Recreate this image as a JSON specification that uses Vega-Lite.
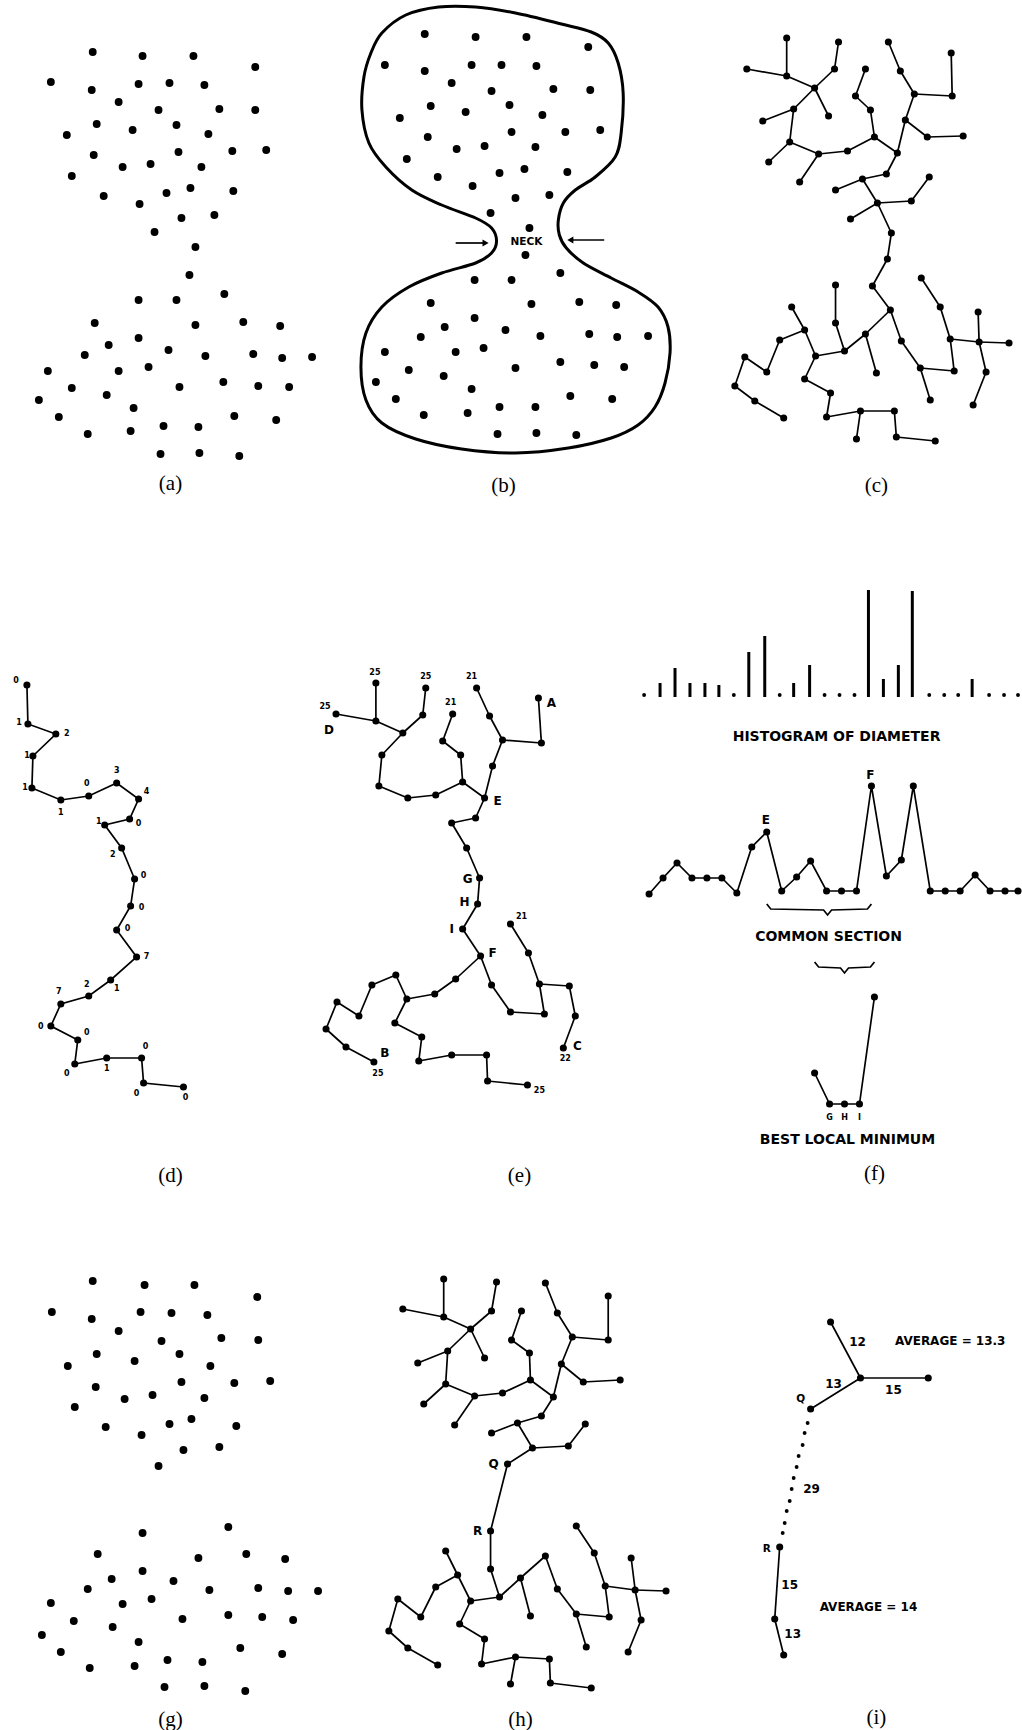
{
"$schema": "https://vega.github.io/schema/vega-lite/v6.json",
"width": 1022, "height": 1730,
"autosize": {"type": "fit", "contains": "padding"},
"padding": 0,
"background": "white",
"config": {"view": {"stroke": null}},
"datasets": {
"pts": [
{"x":93,"y":52},{"x":143,"y":56},{"x":194,"y":56},{"x":256,"y":67},{"x":51,"y":82},{"x":92,"y":90},{"x":139,"y":84},{"x":170,"y":83},{"x":205,"y":85},{"x":119,"y":102},{"x":159,"y":110},{"x":220,"y":109},{"x":256,"y":110},{"x":97,"y":124},{"x":133,"y":130},{"x":177,"y":125},{"x":209,"y":134},{"x":67,"y":135},{"x":94,"y":155},{"x":179,"y":152},{"x":233,"y":151},{"x":267,"y":150},{"x":123,"y":167},{"x":151,"y":164},{"x":202,"y":167},{"x":72,"y":176},{"x":104,"y":196},{"x":140,"y":204},{"x":167,"y":193},{"x":191,"y":188},{"x":234,"y":191},{"x":182,"y":218},{"x":215,"y":215},{"x":155,"y":232},{"x":196,"y":247},{"x":190,"y":275},{"x":139,"y":300},{"x":177,"y":300},{"x":225,"y":294},{"x":95,"y":323},{"x":196,"y":325},{"x":244,"y":322},{"x":281,"y":326},{"x":139,"y":338},{"x":109,"y":345},{"x":85,"y":355},{"x":169,"y":350},{"x":206,"y":356},{"x":254,"y":354},{"x":283,"y":358},{"x":313,"y":357},{"x":48,"y":371},{"x":119,"y":371},{"x":149,"y":367},{"x":72,"y":388},{"x":180,"y":387},{"x":224,"y":382},{"x":259,"y":386},{"x":290,"y":387},{"x":39,"y":400},{"x":107,"y":395},{"x":134,"y":408},{"x":59,"y":417},{"x":235,"y":416},{"x":277,"y":420},{"x":88,"y":434},{"x":131,"y":431},{"x":164,"y":426},{"x":199,"y":427},{"x":161,"y":454},{"x":200,"y":453},{"x":240,"y":456},
{"x":426,"y":34},{"x":477,"y":37},{"x":528,"y":37},{"x":590,"y":47},{"x":386,"y":65},{"x":426,"y":71},{"x":473,"y":65},{"x":503,"y":65},{"x":538,"y":66},{"x":453,"y":83},{"x":493,"y":91},{"x":555,"y":89},{"x":592,"y":90},{"x":432,"y":106},{"x":467,"y":112},{"x":511,"y":105},{"x":544,"y":115},{"x":401,"y":118},{"x":429,"y":137},{"x":513,"y":132},{"x":567,"y":132},{"x":602,"y":130},{"x":458,"y":149},{"x":486,"y":146},{"x":537,"y":147},{"x":408,"y":159},{"x":439,"y":177},{"x":474,"y":186},{"x":501,"y":173},{"x":526,"y":169},{"x":569,"y":172},{"x":517,"y":198},{"x":551,"y":195},{"x":492,"y":213},{"x":531,"y":228},{"x":527,"y":255},{"x":476,"y":280},{"x":513,"y":280},{"x":562,"y":273},{"x":432,"y":303},{"x":533,"y":304},{"x":581,"y":302},{"x":618,"y":305},{"x":476,"y":318},{"x":446,"y":327},{"x":422,"y":337},{"x":507,"y":330},{"x":542,"y":336},{"x":591,"y":334},{"x":619,"y":337},{"x":650,"y":336},{"x":386,"y":352},{"x":457,"y":352},{"x":485,"y":348},{"x":410,"y":370},{"x":517,"y":368},{"x":562,"y":362},{"x":596,"y":365},{"x":626,"y":367},{"x":377,"y":382},{"x":445,"y":376},{"x":473,"y":389},{"x":397,"y":399},{"x":572,"y":396},{"x":614,"y":399},{"x":425,"y":415},{"x":469,"y":413},{"x":501,"y":407},{"x":537,"y":407},{"x":499,"y":434},{"x":538,"y":433},{"x":578,"y":435},
{"x":93,"y":1281},{"x":145,"y":1285},{"x":195,"y":1285},{"x":258,"y":1297},{"x":52,"y":1312},{"x":92,"y":1319},{"x":141,"y":1312},{"x":172,"y":1313},{"x":208,"y":1315},{"x":119,"y":1331},{"x":162,"y":1341},{"x":222,"y":1338},{"x":259,"y":1340},{"x":97,"y":1354},{"x":135,"y":1361},{"x":180,"y":1354},{"x":211,"y":1366},{"x":68,"y":1366},{"x":96,"y":1387},{"x":182,"y":1382},{"x":235,"y":1383},{"x":271,"y":1381},{"x":125,"y":1399},{"x":153,"y":1395},{"x":205,"y":1398},{"x":75,"y":1407},{"x":106,"y":1427},{"x":142,"y":1435},{"x":170,"y":1424},{"x":192,"y":1419},{"x":237,"y":1426},{"x":184,"y":1450},{"x":220,"y":1447},{"x":159,"y":1466},
{"x":143,"y":1533},{"x":229,"y":1527},{"x":98,"y":1554},{"x":199,"y":1558},{"x":247,"y":1554},{"x":286,"y":1559},{"x":143,"y":1571},{"x":112,"y":1579},{"x":174,"y":1581},{"x":88,"y":1589},{"x":210,"y":1590},{"x":259,"y":1588},{"x":289,"y":1591},{"x":319,"y":1591},{"x":51,"y":1603},{"x":123,"y":1604},{"x":152,"y":1599},{"x":74,"y":1621},{"x":183,"y":1619},{"x":229,"y":1615},{"x":263,"y":1617},{"x":294,"y":1620},{"x":42,"y":1635},{"x":113,"y":1627},{"x":139,"y":1642},{"x":61,"y":1652},{"x":241,"y":1648},{"x":283,"y":1654},{"x":90,"y":1668},{"x":135,"y":1666},{"x":168,"y":1660},{"x":203,"y":1662},{"x":165,"y":1687},{"x":205,"y":1686},{"x":246,"y":1691}
],
"outline": [
{"o":1,"x":383,"y":33},{"o":2,"x":407,"y":15},{"o":3,"x":440,"y":7},{"o":4,"x":477,"y":7},{"o":5,"x":517,"y":13},{"o":6,"x":563,"y":24},{"o":7,"x":593,"y":32},{"o":8,"x":610,"y":43},{"o":9,"x":620,"y":63},{"o":10,"x":625,"y":93},{"o":11,"x":623,"y":133},{"o":12,"x":617,"y":157},{"o":13,"x":597,"y":177},{"o":14,"x":577,"y":190},{"o":15,"x":565,"y":203},{"o":16,"x":560,"y":220},{"o":17,"x":561,"y":235},{"o":18,"x":568,"y":248},{"o":19,"x":585,"y":263},{"o":20,"x":613,"y":278},{"o":21,"x":640,"y":292},{"o":22,"x":660,"y":307},{"o":23,"x":670,"y":327},{"o":24,"x":672,"y":353},{"o":25,"x":667,"y":383},{"o":26,"x":657,"y":407},{"o":27,"x":640,"y":425},{"o":28,"x":613,"y":438},{"o":29,"x":570,"y":448},{"o":30,"x":517,"y":453},{"o":31,"x":463,"y":449},{"o":32,"x":417,"y":439},{"o":33,"x":383,"y":423},{"o":34,"x":367,"y":400},{"o":35,"x":362,"y":367},{"o":36,"x":367,"y":333},{"o":37,"x":383,"y":307},{"o":38,"x":410,"y":287},{"o":39,"x":443,"y":273},{"o":40,"x":477,"y":263},{"o":41,"x":493,"y":253},{"o":42,"x":498,"y":241},{"o":43,"x":493,"y":228},{"o":44,"x":477,"y":218},{"o":45,"x":443,"y":205},{"o":46,"x":413,"y":190},{"o":47,"x":387,"y":167},{"o":48,"x":370,"y":143},{"o":49,"x":363,"y":110},{"o":50,"x":365,"y":77},{"o":51,"x":372,"y":53}
],
"nodes": [
{"id":"c1","x":789,"y":38},{"id":"c2","x":749,"y":69},{"id":"c3","x":789,"y":76},{"id":"c4","x":817,"y":88},{"id":"c5","x":841,"y":42},{"id":"c6","x":837,"y":69},{"id":"c7","x":831,"y":116},{"id":"c8","x":796,"y":109},{"id":"c9","x":765,"y":121},{"id":"c10","x":792,"y":142},{"id":"c11","x":771,"y":162},{"id":"c12","x":821,"y":154},{"id":"c13","x":802,"y":182},{"id":"c14","x":850,"y":151},{"id":"c15","x":877,"y":137},{"id":"c16","x":873,"y":110},{"id":"c17","x":858,"y":96},{"id":"c18","x":868,"y":69},{"id":"c19","x":891,"y":42},{"id":"c20","x":903,"y":71},{"id":"c21","x":917,"y":94},{"id":"c22","x":955,"y":96},{"id":"c23","x":954,"y":53},{"id":"c24","x":908,"y":120},{"id":"c25","x":930,"y":137},{"id":"c26","x":966,"y":136},{"id":"c27","x":900,"y":153},{"id":"c28","x":889,"y":174},{"id":"c29","x":865,"y":179},{"id":"c30","x":838,"y":190},{"id":"c31","x":880,"y":203},{"id":"c32","x":853,"y":219},{"id":"c33","x":914,"y":201},{"id":"c34","x":932,"y":177},{"id":"c35","x":894,"y":233},{"id":"c36","x":890,"y":259},{"id":"c37","x":875,"y":286},{"id":"c38","x":893,"y":310},{"id":"c39","x":868,"y":334},{"id":"c40","x":879,"y":373},{"id":"c41","x":847,"y":351},{"id":"c42","x":838,"y":323},{"id":"c43","x":838,"y":285},{"id":"c44","x":818,"y":356},{"id":"c45","x":807,"y":330},{"id":"c46","x":794,"y":307},{"id":"c47","x":782,"y":340},{"id":"c48","x":769,"y":372},{"id":"c49","x":747,"y":357},{"id":"c50","x":737,"y":386},{"id":"c51","x":757,"y":401},{"id":"c52","x":786,"y":418},{"id":"c53","x":807,"y":379},{"id":"c54","x":833,"y":393},{"id":"c55","x":829,"y":417},{"id":"c56","x":863,"y":411},{"id":"c57","x":859,"y":439},{"id":"c58","x":897,"y":411},{"id":"c59","x":899,"y":437},{"id":"c60","x":938,"y":441},{"id":"c61","x":904,"y":341},{"id":"c62","x":923,"y":368},{"id":"c63","x":933,"y":400},{"id":"c64","x":957,"y":371},{"id":"c65","x":953,"y":339},{"id":"c66","x":943,"y":307},{"id":"c67","x":924,"y":278},{"id":"c68","x":982,"y":342},{"id":"c69","x":981,"y":312},{"id":"c70","x":1012,"y":343},{"id":"c71","x":989,"y":372},{"id":"c72","x":976,"y":405},
{"id":"e1","x":377,"y":683},{"id":"e2","x":337,"y":714},{"id":"e3","x":377,"y":721},{"id":"e4","x":404,"y":733},{"id":"e5","x":424,"y":715},{"id":"e6","x":427,"y":688},{"id":"e7","x":383,"y":755},{"id":"e8","x":380,"y":786},{"id":"e9","x":409,"y":798},{"id":"e10","x":437,"y":795},{"id":"e11","x":464,"y":782},{"id":"e12","x":462,"y":755},{"id":"e13","x":444,"y":741},{"id":"e14","x":454,"y":714},{"id":"e15","x":486,"y":798},{"id":"e16","x":494,"y":766},{"id":"e17","x":504,"y":740},{"id":"e18","x":491,"y":716},{"id":"e19","x":478,"y":688},{"id":"e20","x":543,"y":743},{"id":"e21","x":540,"y":698},{"id":"e22","x":477,"y":818},{"id":"e23","x":453,"y":823},{"id":"e24","x":468,"y":848},{"id":"e25","x":481,"y":878},{"id":"e26","x":479,"y":904},{"id":"e27","x":464,"y":929},{"id":"e28","x":482,"y":956},{"id":"e29","x":457,"y":979},{"id":"e30","x":436,"y":994},{"id":"e31","x":408,"y":999},{"id":"e32","x":397,"y":975},{"id":"e33","x":373,"y":985},{"id":"e34","x":360,"y":1016},{"id":"e35","x":338,"y":1002},{"id":"e36","x":327,"y":1029},{"id":"e37","x":347,"y":1047},{"id":"e38","x":375,"y":1062},{"id":"e39","x":396,"y":1023},{"id":"e40","x":423,"y":1037},{"id":"e41","x":420,"y":1061},{"id":"e42","x":453,"y":1055},{"id":"e43","x":488,"y":1055},{"id":"e44","x":489,"y":1081},{"id":"e45","x":529,"y":1085},{"id":"e46","x":493,"y":985},{"id":"e47","x":512,"y":1012},{"id":"e48","x":546,"y":1014},{"id":"e49","x":541,"y":984},{"id":"e50","x":530,"y":953},{"id":"e51","x":512,"y":924},{"id":"e52","x":571,"y":986},{"id":"e53","x":577,"y":1016},{"id":"e54","x":565,"y":1048},
{"id":"h1","x":445,"y":1279},{"id":"h2","x":404,"y":1309},{"id":"h3","x":445,"y":1317},{"id":"h4","x":472,"y":1329},{"id":"h5","x":498,"y":1282},{"id":"h6","x":493,"y":1311},{"id":"h7","x":486,"y":1358},{"id":"h8","x":449,"y":1351},{"id":"h9","x":419,"y":1363},{"id":"h10","x":447,"y":1384},{"id":"h11","x":425,"y":1404},{"id":"h12","x":476,"y":1396},{"id":"h13","x":456,"y":1425},{"id":"h14","x":504,"y":1393},{"id":"h15","x":532,"y":1380},{"id":"h16","x":531,"y":1353},{"id":"h17","x":513,"y":1340},{"id":"h18","x":523,"y":1311},{"id":"h19","x":547,"y":1283},{"id":"h20","x":559,"y":1313},{"id":"h21","x":574,"y":1337},{"id":"h22","x":610,"y":1340},{"id":"h23","x":610,"y":1296},{"id":"h24","x":563,"y":1364},{"id":"h25","x":585,"y":1382},{"id":"h26","x":622,"y":1380},{"id":"h27","x":555,"y":1397},{"id":"h28","x":543,"y":1416},{"id":"h29","x":519,"y":1423},{"id":"h30","x":493,"y":1433},{"id":"h31","x":534,"y":1448},{"id":"h32","x":570,"y":1446},{"id":"h33","x":587,"y":1424},{"id":"h34","x":509,"y":1464},{"id":"h35","x":492,"y":1531},{"id":"h36","x":492,"y":1569},{"id":"h37","x":501,"y":1597},{"id":"h38","x":522,"y":1578},{"id":"h39","x":547,"y":1556},{"id":"h40","x":532,"y":1616},{"id":"h41","x":559,"y":1589},{"id":"h42","x":578,"y":1614},{"id":"h43","x":588,"y":1647},{"id":"h44","x":611,"y":1617},{"id":"h45","x":607,"y":1586},{"id":"h46","x":596,"y":1553},{"id":"h47","x":578,"y":1526},{"id":"h48","x":637,"y":1590},{"id":"h49","x":633,"y":1558},{"id":"h50","x":668,"y":1591},{"id":"h51","x":643,"y":1620},{"id":"h52","x":630,"y":1652},{"id":"h53","x":472,"y":1601},{"id":"h54","x":459,"y":1575},{"id":"h55","x":447,"y":1551},{"id":"h56","x":437,"y":1587},{"id":"h57","x":422,"y":1617},{"id":"h58","x":399,"y":1599},{"id":"h59","x":390,"y":1631},{"id":"h60","x":409,"y":1648},{"id":"h61","x":439,"y":1665},{"id":"h62","x":461,"y":1624},{"id":"h63","x":486,"y":1639},{"id":"h64","x":483,"y":1664},{"id":"h65","x":517,"y":1657},{"id":"h66","x":512,"y":1684},{"id":"h67","x":551,"y":1659},{"id":"h68","x":552,"y":1683},{"id":"h69","x":593,"y":1688},
{"id":"i1","x":833,"y":1322},{"id":"i2","x":863,"y":1378},{"id":"i3","x":931,"y":1378},{"id":"i4","x":813,"y":1409},{"id":"i5","x":782,"y":1547},{"id":"i6","x":777,"y":1619},{"id":"i7","x":786,"y":1655}
],
"edges": [
{"a":"c1","b":"c3"},{"a":"c2","b":"c3"},{"a":"c3","b":"c4"},{"a":"c4","b":"c6"},{"a":"c6","b":"c5"},{"a":"c4","b":"c7"},{"a":"c4","b":"c8"},{"a":"c8","b":"c9"},{"a":"c8","b":"c10"},{"a":"c10","b":"c11"},{"a":"c10","b":"c12"},{"a":"c12","b":"c13"},{"a":"c12","b":"c14"},{"a":"c14","b":"c15"},{"a":"c15","b":"c16"},{"a":"c16","b":"c17"},{"a":"c17","b":"c18"},{"a":"c15","b":"c27"},{"a":"c27","b":"c24"},{"a":"c24","b":"c21"},{"a":"c21","b":"c20"},{"a":"c20","b":"c19"},{"a":"c21","b":"c22"},{"a":"c22","b":"c23"},{"a":"c24","b":"c25"},{"a":"c25","b":"c26"},{"a":"c27","b":"c28"},{"a":"c28","b":"c29"},{"a":"c29","b":"c30"},{"a":"c29","b":"c31"},{"a":"c31","b":"c32"},{"a":"c31","b":"c33"},{"a":"c33","b":"c34"},{"a":"c31","b":"c35"},{"a":"c35","b":"c36"},{"a":"c36","b":"c37"},{"a":"c37","b":"c38"},{"a":"c38","b":"c39"},{"a":"c39","b":"c40"},{"a":"c39","b":"c41"},{"a":"c41","b":"c42"},{"a":"c42","b":"c43"},{"a":"c41","b":"c44"},{"a":"c44","b":"c45"},{"a":"c45","b":"c46"},{"a":"c45","b":"c47"},{"a":"c47","b":"c48"},{"a":"c48","b":"c49"},{"a":"c49","b":"c50"},{"a":"c50","b":"c51"},{"a":"c51","b":"c52"},{"a":"c44","b":"c53"},{"a":"c53","b":"c54"},{"a":"c54","b":"c55"},{"a":"c55","b":"c56"},{"a":"c56","b":"c57"},{"a":"c56","b":"c58"},{"a":"c58","b":"c59"},{"a":"c59","b":"c60"},{"a":"c38","b":"c61"},{"a":"c61","b":"c62"},{"a":"c62","b":"c63"},{"a":"c62","b":"c64"},{"a":"c64","b":"c65"},{"a":"c65","b":"c66"},{"a":"c66","b":"c67"},{"a":"c65","b":"c68"},{"a":"c68","b":"c69"},{"a":"c68","b":"c70"},{"a":"c68","b":"c71"},{"a":"c71","b":"c72"},
{"a":"e1","b":"e3"},{"a":"e2","b":"e3"},{"a":"e3","b":"e4"},{"a":"e4","b":"e5"},{"a":"e5","b":"e6"},{"a":"e4","b":"e7"},{"a":"e7","b":"e8"},{"a":"e8","b":"e9"},{"a":"e9","b":"e10"},{"a":"e10","b":"e11"},{"a":"e11","b":"e12"},{"a":"e12","b":"e13"},{"a":"e13","b":"e14"},{"a":"e11","b":"e15"},{"a":"e15","b":"e16"},{"a":"e16","b":"e17"},{"a":"e17","b":"e18"},{"a":"e18","b":"e19"},{"a":"e17","b":"e20"},{"a":"e20","b":"e21"},{"a":"e15","b":"e22"},{"a":"e22","b":"e23"},{"a":"e23","b":"e24"},{"a":"e24","b":"e25"},{"a":"e25","b":"e26"},{"a":"e26","b":"e27"},{"a":"e27","b":"e28"},{"a":"e28","b":"e29"},{"a":"e29","b":"e30"},{"a":"e30","b":"e31"},{"a":"e31","b":"e32"},{"a":"e32","b":"e33"},{"a":"e33","b":"e34"},{"a":"e34","b":"e35"},{"a":"e35","b":"e36"},{"a":"e36","b":"e37"},{"a":"e37","b":"e38"},{"a":"e31","b":"e39"},{"a":"e39","b":"e40"},{"a":"e40","b":"e41"},{"a":"e41","b":"e42"},{"a":"e42","b":"e43"},{"a":"e43","b":"e44"},{"a":"e44","b":"e45"},{"a":"e28","b":"e46"},{"a":"e46","b":"e47"},{"a":"e47","b":"e48"},{"a":"e48","b":"e49"},{"a":"e49","b":"e50"},{"a":"e50","b":"e51"},{"a":"e49","b":"e52"},{"a":"e52","b":"e53"},{"a":"e53","b":"e54"},
{"a":"h1","b":"h3"},{"a":"h2","b":"h3"},{"a":"h3","b":"h4"},{"a":"h4","b":"h6"},{"a":"h6","b":"h5"},{"a":"h4","b":"h7"},{"a":"h4","b":"h8"},{"a":"h8","b":"h9"},{"a":"h8","b":"h10"},{"a":"h10","b":"h11"},{"a":"h10","b":"h12"},{"a":"h12","b":"h13"},{"a":"h12","b":"h14"},{"a":"h14","b":"h15"},{"a":"h15","b":"h16"},{"a":"h16","b":"h17"},{"a":"h17","b":"h18"},{"a":"h15","b":"h27"},{"a":"h27","b":"h24"},{"a":"h24","b":"h21"},{"a":"h21","b":"h20"},{"a":"h20","b":"h19"},{"a":"h21","b":"h22"},{"a":"h22","b":"h23"},{"a":"h24","b":"h25"},{"a":"h25","b":"h26"},{"a":"h27","b":"h28"},{"a":"h28","b":"h29"},{"a":"h29","b":"h30"},{"a":"h29","b":"h31"},{"a":"h31","b":"h32"},{"a":"h32","b":"h33"},{"a":"h31","b":"h34"},{"a":"h34","b":"h35"},{"a":"h35","b":"h36"},{"a":"h36","b":"h37"},{"a":"h37","b":"h38"},{"a":"h38","b":"h39"},{"a":"h38","b":"h40"},{"a":"h39","b":"h41"},{"a":"h41","b":"h42"},{"a":"h42","b":"h43"},{"a":"h42","b":"h44"},{"a":"h44","b":"h45"},{"a":"h45","b":"h46"},{"a":"h46","b":"h47"},{"a":"h45","b":"h48"},{"a":"h48","b":"h49"},{"a":"h48","b":"h50"},{"a":"h48","b":"h51"},{"a":"h51","b":"h52"},{"a":"h37","b":"h53"},{"a":"h53","b":"h54"},{"a":"h54","b":"h55"},{"a":"h54","b":"h56"},{"a":"h56","b":"h57"},{"a":"h57","b":"h58"},{"a":"h58","b":"h59"},{"a":"h59","b":"h60"},{"a":"h60","b":"h61"},{"a":"h53","b":"h62"},{"a":"h62","b":"h63"},{"a":"h63","b":"h64"},{"a":"h64","b":"h65"},{"a":"h65","b":"h66"},{"a":"h65","b":"h67"},{"a":"h67","b":"h68"},{"a":"h68","b":"h69"},
{"a":"i1","b":"i2"},{"a":"i2","b":"i3"},{"a":"i2","b":"i4"},{"a":"i5","b":"i6"},{"a":"i6","b":"i7"}
],
"curves": [
{"s":"d","o":1,"x":27,"y":685},{"s":"d","o":2,"x":28,"y":724},{"s":"d","o":3,"x":56,"y":734},{"s":"d","o":4,"x":33,"y":756},{"s":"d","o":5,"x":32,"y":788},{"s":"d","o":6,"x":61,"y":800},{"s":"d","o":7,"x":89,"y":796},{"s":"d","o":8,"x":117,"y":783},{"s":"d","o":9,"x":139,"y":799},{"s":"d","o":10,"x":130,"y":819},{"s":"d","o":11,"x":105,"y":825},{"s":"d","o":12,"x":122,"y":848},{"s":"d","o":13,"x":135,"y":879},{"s":"d","o":14,"x":131,"y":906},{"s":"d","o":15,"x":117,"y":930},{"s":"d","o":16,"x":137,"y":957},{"s":"d","o":17,"x":111,"y":980},{"s":"d","o":18,"x":89,"y":996},{"s":"d","o":19,"x":61,"y":1004},{"s":"d","o":20,"x":51,"y":1026},{"s":"d","o":21,"x":78,"y":1040},{"s":"d","o":22,"x":75,"y":1064},{"s":"d","o":23,"x":107,"y":1058},{"s":"d","o":24,"x":142,"y":1058},{"s":"d","o":25,"x":144,"y":1083},{"s":"d","o":26,"x":184,"y":1087},
{"s":"diam","o":1,"x":651,"y":894},{"s":"diam","o":2,"x":665,"y":878},{"s":"diam","o":3,"x":679,"y":863},{"s":"diam","o":4,"x":694,"y":878},{"s":"diam","o":5,"x":709,"y":878},{"s":"diam","o":6,"x":724,"y":878},{"s":"diam","o":7,"x":739,"y":893},{"s":"diam","o":8,"x":754,"y":847},{"s":"diam","o":9,"x":769,"y":832},{"s":"diam","o":10,"x":784,"y":891},{"s":"diam","o":11,"x":799,"y":877},{"s":"diam","o":12,"x":813,"y":861},{"s":"diam","o":13,"x":829,"y":891},{"s":"diam","o":14,"x":844,"y":891},{"s":"diam","o":15,"x":859,"y":891},{"s":"diam","o":16,"x":874,"y":786},{"s":"diam","o":17,"x":889,"y":876},{"s":"diam","o":18,"x":904,"y":860},{"s":"diam","o":19,"x":916,"y":786},{"s":"diam","o":20,"x":933,"y":891},{"s":"diam","o":21,"x":948,"y":891},{"s":"diam","o":22,"x":963,"y":891},{"s":"diam","o":23,"x":978,"y":875},{"s":"diam","o":24,"x":993,"y":891},{"s":"diam","o":25,"x":1008,"y":891},{"s":"diam","o":26,"x":1021,"y":891},
{"s":"min","o":1,"x":817,"y":1073},{"s":"min","o":2,"x":832,"y":1104},{"s":"min","o":3,"x":847,"y":1104},{"s":"min","o":4,"x":862,"y":1104},{"s":"min","o":5,"x":877,"y":997},
{"s":"brace1","o":1,"x":769,"y":904},{"s":"brace1","o":2,"x":773,"y":909},{"s":"brace1","o":3,"x":826,"y":910},{"s":"brace1","o":4,"x":830,"y":915},{"s":"brace1","o":5,"x":834,"y":910},{"s":"brace1","o":6,"x":870,"y":909},{"s":"brace1","o":7,"x":874,"y":904},
{"s":"brace2","o":1,"x":817,"y":962},{"s":"brace2","o":2,"x":821,"y":967},{"s":"brace2","o":3,"x":843,"y":968},{"s":"brace2","o":4,"x":847,"y":973},{"s":"brace2","o":5,"x":851,"y":968},{"s":"brace2","o":6,"x":873,"y":967},{"s":"brace2","o":7,"x":877,"y":962},
{"s":"arrowL","o":1,"x":457,"y":243},{"s":"arrowL","o":2,"x":486,"y":243},
{"s":"arrowR","o":1,"x":606,"y":240},{"s":"arrowR","o":2,"x":573,"y":240}
],
"hist": [
{"x":662,"y":683},{"x":677,"y":668},{"x":692,"y":683},{"x":707,"y":683},{"x":721,"y":685},{"x":751,"y":652},{"x":767,"y":636},{"x":796,"y":683},{"x":812,"y":665},{"x":871,"y":590},{"x":886,"y":679},{"x":901,"y":665},{"x":915,"y":591},{"x":975,"y":679}
],
"dots": [
{"x":646,"y":695},{"x":736,"y":695},{"x":782,"y":695},{"x":827,"y":695},{"x":842,"y":695},{"x":857,"y":695},{"x":932,"y":695},{"x":947,"y":695},{"x":961,"y":695},{"x":992,"y":695},{"x":1007,"y":695},{"x":1021,"y":695},
{"x":810,"y":1423},{"x":807,"y":1433},{"x":805,"y":1445},{"x":801,"y":1456},{"x":799,"y":1467},{"x":796,"y":1478},{"x":794,"y":1489},{"x":792,"y":1501},{"x":789,"y":1511},{"x":787,"y":1523},{"x":785,"y":1533}
],
"heads": [{"x":487,"y":243,"dir":"right"},{"x":572,"y":240,"dir":"left"}],
"texts": [
{"t":"(a)","x":171,"y":484,"k":"cap"},{"t":"(b)","x":505,"y":486,"k":"cap"},{"t":"(c)","x":879,"y":486,"k":"cap"},{"t":"(d)","x":171,"y":1176,"k":"cap"},{"t":"(e)","x":521,"y":1176,"k":"cap"},{"t":"(f)","x":877,"y":1174,"k":"cap"},{"t":"(g)","x":171,"y":1720,"k":"cap"},{"t":"(h)","x":522,"y":1720,"k":"cap"},{"t":"(i)","x":879,"y":1718,"k":"cap"},
{"t":"HISTOGRAM OF DIAMETER","x":839,"y":737,"k":"head"},{"t":"COMMON SECTION","x":831,"y":937,"k":"head"},{"t":"BEST LOCAL MINIMUM","x":850,"y":1140,"k":"head"},
{"t":"AVERAGE = 13.3","x":953,"y":1341,"k":"avg"},{"t":"AVERAGE = 14","x":871,"y":1607,"k":"avg"},{"t":"12","x":860,"y":1342,"k":"avg"},{"t":"13","x":836,"y":1384,"k":"avg"},{"t":"15","x":896,"y":1390,"k":"avg"},{"t":"29","x":814,"y":1489,"k":"avg"},{"t":"15","x":792,"y":1585,"k":"avg"},{"t":"13","x":795,"y":1634,"k":"avg"},
{"t":"NECK","x":528,"y":242,"k":"mid"},{"t":"Q","x":803,"y":1399,"k":"mid"},{"t":"R","x":769,"y":1549,"k":"mid"},
{"t":"D","x":330,"y":730,"k":"let"},{"t":"A","x":553,"y":703,"k":"let"},{"t":"E","x":499,"y":801,"k":"let"},{"t":"G","x":469,"y":879,"k":"let"},{"t":"H","x":466,"y":902,"k":"let"},{"t":"I","x":453,"y":929,"k":"let"},{"t":"F","x":494,"y":953,"k":"let"},{"t":"B","x":386,"y":1053,"k":"let"},{"t":"C","x":579,"y":1046,"k":"let"},{"t":"E","x":768,"y":820,"k":"let"},{"t":"F","x":873,"y":775,"k":"let"},{"t":"Q","x":495,"y":1464,"k":"let"},{"t":"R","x":479,"y":1531,"k":"let"},
{"t":"25","x":376,"y":673,"k":"tiny"},{"t":"25","x":326,"y":707,"k":"tiny"},{"t":"25","x":427,"y":677,"k":"tiny"},{"t":"21","x":452,"y":703,"k":"tiny"},{"t":"21","x":473,"y":677,"k":"tiny"},{"t":"25","x":379,"y":1074,"k":"tiny"},{"t":"25","x":541,"y":1091,"k":"tiny"},{"t":"21","x":523,"y":917,"k":"tiny"},{"t":"22","x":567,"y":1059,"k":"tiny"},
{"t":"G","x":832,"y":1118,"k":"tiny"},{"t":"H","x":847,"y":1118,"k":"tiny"},{"t":"I","x":862,"y":1118,"k":"tiny"},
{"t":"0","x":16,"y":681,"k":"tiny"},{"t":"1","x":19,"y":723,"k":"tiny"},{"t":"2","x":67,"y":734,"k":"tiny"},{"t":"1","x":27,"y":756,"k":"tiny"},{"t":"1","x":25,"y":788,"k":"tiny"},{"t":"1","x":61,"y":813,"k":"tiny"},{"t":"0","x":87,"y":784,"k":"tiny"},{"t":"3","x":117,"y":771,"k":"tiny"},{"t":"4","x":147,"y":792,"k":"tiny"},{"t":"0","x":139,"y":824,"k":"tiny"},{"t":"1","x":99,"y":822,"k":"tiny"},{"t":"2","x":113,"y":855,"k":"tiny"},{"t":"0","x":144,"y":876,"k":"tiny"},{"t":"0","x":142,"y":908,"k":"tiny"},{"t":"0","x":128,"y":929,"k":"tiny"},{"t":"7","x":147,"y":957,"k":"tiny"},{"t":"1","x":117,"y":989,"k":"tiny"},{"t":"2","x":87,"y":985,"k":"tiny"},{"t":"7","x":59,"y":992,"k":"tiny"},{"t":"0","x":41,"y":1027,"k":"tiny"},{"t":"0","x":87,"y":1033,"k":"tiny"},{"t":"0","x":67,"y":1074,"k":"tiny"},{"t":"1","x":107,"y":1069,"k":"tiny"},{"t":"0","x":146,"y":1047,"k":"tiny"},{"t":"0","x":137,"y":1094,"k":"tiny"},{"t":"0","x":186,"y":1098,"k":"tiny"}
]
},
"encoding": {
"x": {"field": "x", "type": "quantitative", "axis": null, "scale": {"domain": [0, 1022], "nice": false, "zero": false}},
"y": {"field": "y", "type": "quantitative", "axis": null, "scale": {"domain": [0, 1730], "nice": false, "zero": false, "reverse": true}}
},
"layer": [
{"data": {"name": "outline"}, "mark": {"type": "line", "interpolate": "cardinal-closed", "strokeWidth": 3, "color": "black"}, "encoding": {"order": {"field": "o", "type": "quantitative"}}},
{"data": {"name": "edges"},
 "transform": [
  {"lookup": "a", "from": {"data": {"name": "nodes"}, "key": "id", "fields": ["x", "y"]}, "as": ["x", "y"]},
  {"lookup": "b", "from": {"data": {"name": "nodes"}, "key": "id", "fields": ["x", "y"]}, "as": ["x2", "y2"]}
 ],
 "mark": {"type": "rule", "strokeWidth": 1.7, "color": "black"},
 "encoding": {"x2": {"field": "x2"}, "y2": {"field": "y2"}}},
{"data": {"name": "curves"}, "mark": {"type": "line", "strokeWidth": 1.7, "color": "black"}, "encoding": {"detail": {"field": "s"}, "order": {"field": "o", "type": "quantitative"}}},
{"data": {"name": "hist"}, "mark": {"type": "rule", "strokeWidth": 3, "color": "black"}, "encoding": {"y2": {"datum": 697}}},
{"data": {"name": "pts"}, "mark": {"type": "circle", "size": 62, "opacity": 1, "color": "black"}},
{"data": {"name": "nodes"}, "mark": {"type": "circle", "size": 50, "opacity": 1, "color": "black"}},
{"data": {"name": "curves"}, "transform": [{"filter": "datum.s == 'd' || datum.s == 'diam' || datum.s == 'min'"}], "mark": {"type": "circle", "size": 50, "opacity": 1, "color": "black"}},
{"data": {"name": "dots"}, "mark": {"type": "circle", "size": 15, "opacity": 1, "color": "black"}},
{"data": {"name": "heads"}, "mark": {"type": "point", "filled": true, "opacity": 1, "size": 50, "color": "black"}, "encoding": {"shape": {"field": "dir", "type": "nominal", "legend": null, "scale": {"domain": ["right", "left"], "range": ["triangle-right", "triangle-left"]}}}},
{"data": {"name": "texts"}, "transform": [{"filter": "datum.k == 'cap'"}], "mark": {"type": "text", "font": "Liberation Serif", "fontSize": 21, "align": "center", "baseline": "middle", "color": "black"}, "encoding": {"text": {"field": "t"}}},
{"data": {"name": "texts"}, "transform": [{"filter": "datum.k == 'head'"}], "mark": {"type": "text", "font": "DejaVu Sans", "fontWeight": "bold", "fontSize": 14, "align": "center", "baseline": "middle", "color": "black"}, "encoding": {"text": {"field": "t"}}},
{"data": {"name": "texts"}, "transform": [{"filter": "datum.k == 'avg'"}], "mark": {"type": "text", "font": "DejaVu Sans", "fontWeight": "bold", "fontSize": 12, "align": "center", "baseline": "middle", "color": "black"}, "encoding": {"text": {"field": "t"}}},
{"data": {"name": "texts"}, "transform": [{"filter": "datum.k == 'mid'"}], "mark": {"type": "text", "font": "DejaVu Sans", "fontWeight": "bold", "fontSize": 10.5, "align": "center", "baseline": "middle", "color": "black"}, "encoding": {"text": {"field": "t"}}},
{"data": {"name": "texts"}, "transform": [{"filter": "datum.k == 'let'"}], "mark": {"type": "text", "font": "DejaVu Sans", "fontWeight": "bold", "fontSize": 12, "align": "center", "baseline": "middle", "color": "black"}, "encoding": {"text": {"field": "t"}}},
{"data": {"name": "texts"}, "transform": [{"filter": "datum.k == 'tiny'"}], "mark": {"type": "text", "font": "DejaVu Sans", "fontWeight": "bold", "fontSize": 8, "align": "center", "baseline": "middle", "color": "black"}, "encoding": {"text": {"field": "t"}}}
]
}
